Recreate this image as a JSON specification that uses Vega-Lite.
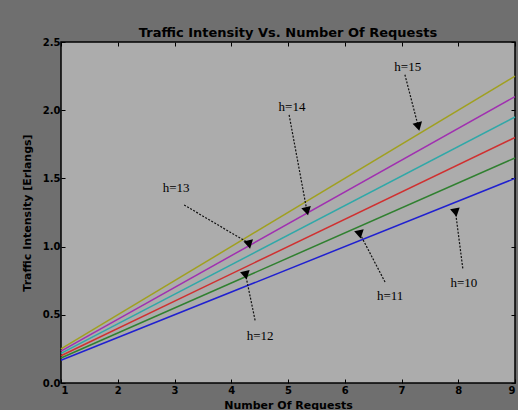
{
  "$schema": "https://vega.github.io/schema/vega-lite/v6.json",
  "width": 454,
  "height": 341,
  "autosize": {"type": "none"},
  "padding": {"left": 61, "top": 42, "right": 3, "bottom": 27},
  "background": "#6f6f6f",
  "config": {
    "view": {"fill": "#acacac", "stroke": "#000000", "strokeWidth": 1.5},
    "font": "DejaVu Sans",
    "axis": {"grid": false, "domain": false, "tickColor": "#000", "tickSize": -4, "labelColor": "#000", "labelFontSize": 10, "labelFontWeight": "bold", "titleColor": "#000", "titleFontSize": 11, "titleFontWeight": "bold"}
  },
  "title": {"text": "Traffic Intensity Vs. Number Of Requests", "fontSize": 13, "fontWeight": "bold", "color": "#000", "offset": -3},
  "datasets": {
    "lines": [
      {"n": 1, "h": "10", "T": 0.1667}, {"n": 9, "h": "10", "T": 1.5},
      {"n": 1, "h": "11", "T": 0.1833}, {"n": 9, "h": "11", "T": 1.65},
      {"n": 1, "h": "12", "T": 0.2}, {"n": 9, "h": "12", "T": 1.8},
      {"n": 1, "h": "13", "T": 0.2167}, {"n": 9, "h": "13", "T": 1.95},
      {"n": 1, "h": "14", "T": 0.2333}, {"n": 9, "h": "14", "T": 2.1},
      {"n": 1, "h": "15", "T": 0.25}, {"n": 9, "h": "15", "T": 2.25}
    ],
    "notes": [
      {"label": "h=15", "tx": 7.11, "ty": 2.32, "x1": 7.06, "y1": 2.26, "x2": 7.29, "y2": 1.89},
      {"label": "h=14", "tx": 5.07, "ty": 2.02, "x1": 5.02, "y1": 1.965, "x2": 5.33, "y2": 1.27},
      {"label": "h=13", "tx": 3.03, "ty": 1.43, "x1": 3.17, "y1": 1.305, "x2": 4.31, "y2": 1.025},
      {"label": "h=12", "tx": 4.51, "ty": 0.345, "x1": 4.42, "y1": 0.46, "x2": 4.25, "y2": 0.80},
      {"label": "h=11", "tx": 6.8, "ty": 0.64, "x1": 6.71, "y1": 0.74, "x2": 6.26, "y2": 1.10},
      {"label": "h=10", "tx": 8.1, "ty": 0.73, "x1": 8.08, "y1": 0.84, "x2": 7.95, "y2": 1.26}
    ]
  },
  "layer": [
    {
      "data": {"name": "lines"},
      "mark": {"type": "line", "strokeWidth": 1.5},
      "encoding": {
        "x": {"field": "n", "type": "quantitative", "scale": {"domain": [1, 9], "nice": false, "zero": false},
              "axis": {"orient": "bottom", "values": [1, 2, 3, 4, 5, 6, 7, 8, 9], "title": "Number Of Requests", "labelPadding": 6, "titlePadding": 4, "format": "d"}},
        "y": {"field": "T", "type": "quantitative", "scale": {"domain": [0, 2.5], "nice": false},
              "axis": {"orient": "left", "values": [0, 0.5, 1, 1.5, 2, 2.5], "format": ".1f", "title": "Traffic Intensity [Erlangs]", "labelPadding": 5, "titlePadding": 10}},
        "color": {"field": "h", "type": "nominal", "legend": null,
                  "scale": {"domain": ["10", "11", "12", "13", "14", "15"], "range": ["#2020d0", "#308030", "#d03030", "#30a8a8", "#a030b0", "#a0a020"]}}
      }
    },
    {
      "data": {"name": "notes"},
      "mark": {"type": "rule", "strokeDash": [2, 1.5], "strokeWidth": 1.2, "color": "#111"},
      "encoding": {
        "x": {"field": "x1", "type": "quantitative", "scale": {"domain": [1, 9], "nice": false, "zero": false},
              "axis": {"orient": "top", "values": [1, 2, 3, 4, 5, 6, 7, 8, 9], "labels": false, "title": null}},
        "y": {"field": "y1", "type": "quantitative", "scale": {"domain": [0, 2.5], "nice": false},
              "axis": {"orient": "right", "values": [0, 0.5, 1, 1.5, 2, 2.5], "labels": false, "title": null}},
        "x2": {"field": "x2"},
        "y2": {"field": "y2"}
      }
    },
    {
      "data": {"name": "notes"},
      "mark": {"type": "point", "shape": "triangle", "filled": true, "color": "#000", "size": 95, "opacity": 1},
      "encoding": {
        "x": {"field": "x2", "type": "quantitative", "scale": {"domain": [1, 9], "nice": false, "zero": false}, "axis": null},
        "y": {"field": "y2", "type": "quantitative", "scale": {"domain": [0, 2.5], "nice": false}, "axis": null},
        "angle": {"field": "label", "type": "nominal", "legend": null,
                  "scale": {"domain": ["h=15", "h=14", "h=13", "h=12", "h=11", "h=10"], "range": [166, 169, 121, 349, 332, 353]}}
      }
    },
    {
      "data": {"name": "notes"},
      "mark": {"type": "text", "font": "Liberation Serif", "fontSize": 13, "color": "#000"},
      "encoding": {
        "x": {"field": "tx", "type": "quantitative", "scale": {"domain": [1, 9], "nice": false, "zero": false}, "axis": null},
        "y": {"field": "ty", "type": "quantitative", "scale": {"domain": [0, 2.5], "nice": false}, "axis": null},
        "text": {"field": "label", "type": "nominal"}
      }
    }
  ],
  "resolve": {"scale": {"x": "independent", "y": "independent"}, "axis": {"x": "independent", "y": "independent"}}
}
